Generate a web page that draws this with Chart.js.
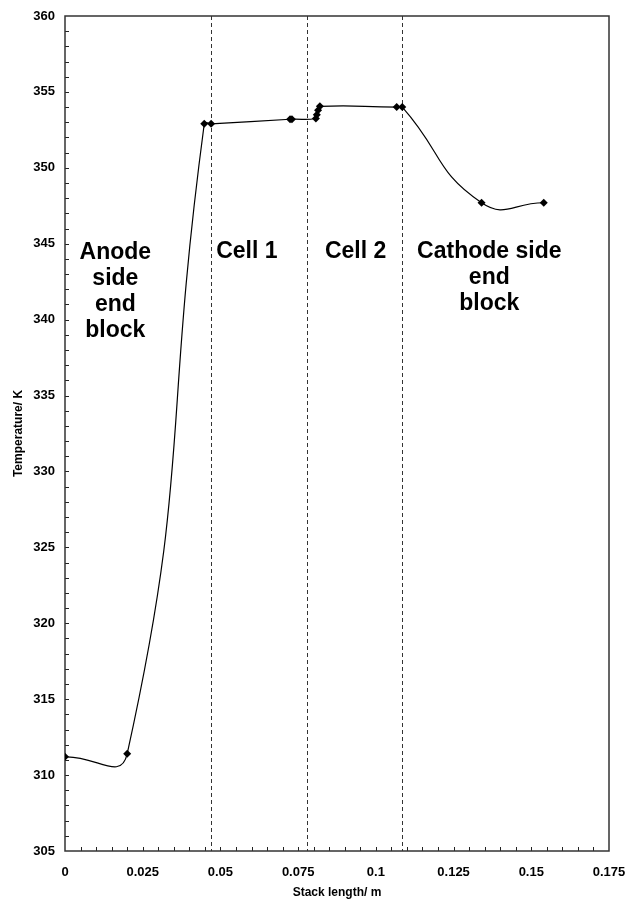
<!DOCTYPE html>
<html>
<head>
<meta charset="utf-8">
<script src="https://cdn.jsdelivr.net/npm/chart.js@4.4.1/dist/chart.umd.min.js"></script>
<style>
  html, body { margin: 0; padding: 0; background: #fff; }
  #wrap { position: relative; width: 626px; height: 901px; }
</style>
</head>
<body>
<div id="wrap"><canvas id="stackChart" width="626" height="901"></canvas></div>
<script>
// stack position (m) and temperature (K)
const stackLength = [0, 0.02, 0.0448, 0.047, 0.0724, 0.073, 0.0807, 0.081, 0.0814, 0.082, 0.1067, 0.1085, 0.134, 0.154];
const temperature = [311.2, 311.4, 352.9, 352.9, 353.2, 353.2, 353.25, 353.5, 353.8, 354.05, 354.0, 354.0, 347.7, 347.7];

const xTicks = [0, 0.025, 0.05, 0.075, 0.1, 0.125, 0.15, 0.175];
const yTicks = [305, 310, 315, 320, 325, 330, 335, 340, 345, 350, 355, 360];
const xTickLabels = ['0', '0.025', '0.05', '0.075', '0.1', '0.125', '0.15', '0.175'];

// section boundaries (dashed lines)
const boundaries = [0.047, 0.0777, 0.1085];

// region labels: [x centre, y of first line, lines]
const regionLabels = [
    [0.0162, 344.4, ['Anode', 'side', 'end', 'block']],
    [0.0585, 344.5, ['Cell 1']],
    [0.0935, 344.5, ['Cell 2']],
    [0.1365, 344.5, ['Cathode side', 'end', 'block']]
];

const FONT = '"Liberation Sans", Arial, sans-serif';

// frame, inward ticks, dashed boundaries and region text
const decorPlugin = {
    id: 'decor',
    beforeDatasetsDraw(chart) {
        const ctx = chart.ctx;
        const a = chart.chartArea;
        const xs = chart.scales.x, ys = chart.scales.y;
        ctx.save();

        // dashed section boundaries
        ctx.strokeStyle = '#333';
        ctx.lineWidth = 1;
        ctx.setLineDash([4, 3]);
        boundaries.forEach(b => {
            const px = Math.round(xs.getPixelForValue(b)) + 0.5;
            ctx.beginPath();
            ctx.moveTo(px, a.top);
            ctx.lineTo(px, a.bottom);
            ctx.stroke();
        });
        ctx.setLineDash([]);

        // minor ticks pointing into the plot
        ctx.strokeStyle = '#222';
        ctx.lineWidth = 1;
        const xStep = (xTicks[1] - xTicks[0]) / 5;
        for (let i = 1; i < (xTicks[xTicks.length - 1] - xTicks[0]) / xStep; i++) {
            const px = Math.round(xs.getPixelForValue(xTicks[0] + i * xStep)) + 0.5;
            ctx.beginPath();
            ctx.moveTo(px, a.bottom);
            ctx.lineTo(px, a.bottom - 4);
            ctx.stroke();
        }
        const yStep = (yTicks[1] - yTicks[0]) / 5;
        for (let i = 1; i < (yTicks[yTicks.length - 1] - yTicks[0]) / yStep; i++) {
            const py = Math.round(ys.getPixelForValue(yTicks[0] + i * yStep)) + 0.5;
            ctx.beginPath();
            ctx.moveTo(a.left, py);
            ctx.lineTo(a.left + 4, py);
            ctx.stroke();
        }

        // plot frame
        ctx.strokeStyle = '#333';
        ctx.lineWidth = 1.5;
        ctx.strokeRect(a.left, a.top, a.right - a.left, a.bottom - a.top);

        // region labels
        ctx.fillStyle = '#000';
        ctx.font = 'bold 23px ' + FONT;
        ctx.textAlign = 'center';
        ctx.textBaseline = 'middle';
        regionLabels.forEach(([x, y, lines]) => {
            const px = xs.getPixelForValue(x);
            const py = ys.getPixelForValue(y);
            lines.forEach((t, i) => ctx.fillText(t, px, py + i * 26));
        });
        ctx.restore();
    }
};

new Chart(document.getElementById('stackChart'), {
    type: 'line',
    data: {
        datasets: [{
            data: stackLength.map((x, i) => ({ x: x, y: temperature[i] })),
            borderColor: '#000',
            borderWidth: 1.2,
            backgroundColor: '#000',
            pointStyle: 'rectRot',
            pointRadius: 4,
            pointBorderWidth: 0,
            tension: 0.5,
            fill: false
        }]
    },
    options: {
        responsive: false,
        animation: false,
        layout: { padding: { top: 16, right: 17, left: 0, bottom: 0 } },
        plugins: { legend: { display: false }, tooltip: { enabled: false } },
        scales: {
            x: {
                type: 'linear',
                min: 0, max: 0.175,
                afterBuildTicks: s => { s.ticks = xTicks.map(v => ({ value: v })); },
                afterFit: s => { s.height = 50; s.paddingLeft = 0; s.paddingRight = 0; },
                grid: { display: false, drawTicks: false },
                border: { display: false },
                ticks: {
                    autoSkip: false, maxRotation: 0, padding: 14,
                    color: '#000', font: { family: FONT, size: 13, weight: 'bold' },
                    callback: (v, i) => xTickLabels[i]
                },
                title: {
                    display: true, text: 'Stack length/ m', color: '#000',
                    font: { family: FONT, size: 12, weight: 'bold' },
                    padding: { top: 0, bottom: 1 }
                }
            },
            y: {
                type: 'linear',
                min: 305, max: 360,
                afterBuildTicks: s => { s.ticks = yTicks.map(v => ({ value: v })); },
                afterFit: s => { s.width = 65; s.paddingTop = 0; s.paddingBottom = 0; },
                grid: { display: false, drawTicks: false },
                border: { display: false },
                ticks: {
                    autoSkip: false, padding: 10,
                    color: '#000', font: { family: FONT, size: 13, weight: 'bold' }
                },
                title: {
                    display: true, text: 'Temperature/ K', color: '#000',
                    font: { family: FONT, size: 12, weight: 'bold' },
                    padding: { top: 11, bottom: 0 }
                }
            }
        }
    },
    plugins: [decorPlugin]
});
</script>
</body>
</html>
